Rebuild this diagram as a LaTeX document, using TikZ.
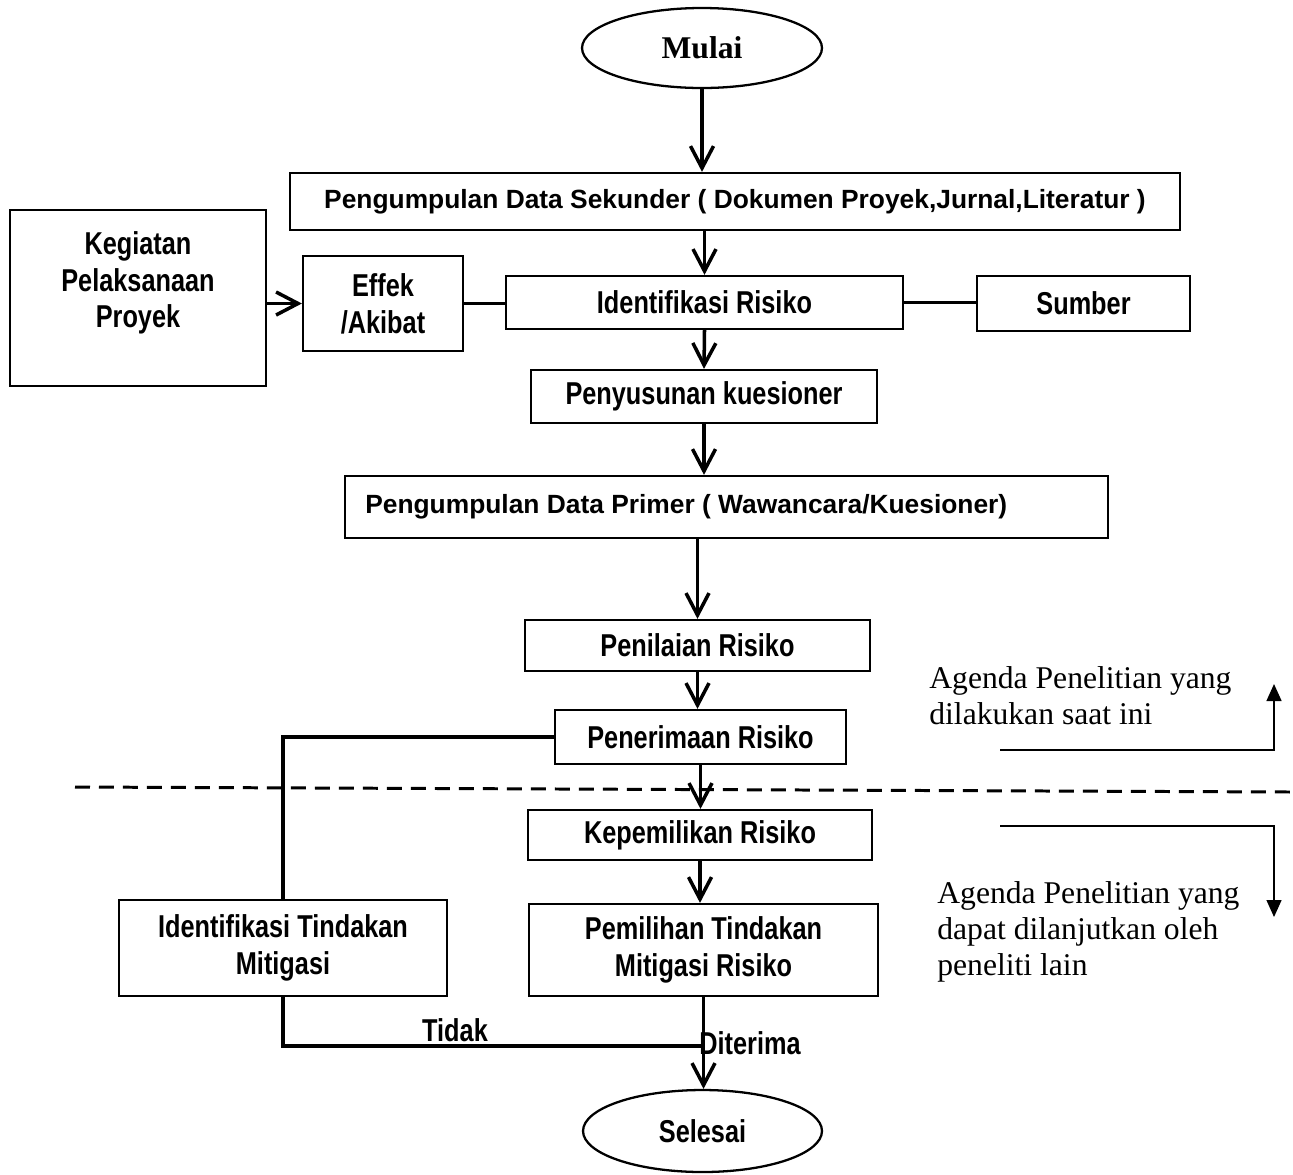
\documentclass[tikz,border=0pt]{standalone}
\usepackage{fontspec}
\setmainfont{Liberation Serif}
\setsansfont{Liberation Sans}
\newfontfamily\narrowsans[FakeStretch=0.8]{Liberation Sans}
\usepackage{tikz}
\usetikzlibrary{arrows.meta, shapes.geometric, positioning, calc}

\begin{document}
\begin{tikzpicture}[x=0.02cm, y=-0.02cm,
  box/.style={draw, line width=1.3pt, align=center, inner sep=0pt,
    font=\narrowsans\bfseries\fontsize{18}{21}\selectfont},
  widebox/.style={box, font=\sffamily\bfseries\fontsize{15}{20}\selectfont},
  terminal/.style={draw, ellipse, line width=1.3pt, inner sep=0pt},
  flow/.style={line width=2pt, -{Straight Barb[length=4.4mm,width=4.6mm]}},
  link/.style={line width=2pt},
  note/.style={line width=0.8pt, -{Triangle[length=3.4mm,width=3mm]}},
  notetext/.style={anchor=west, align=left, inner sep=0pt,
    font=\fontsize{18}{20.5}\selectfont},
  lbl/.style={inner sep=0pt, font=\narrowsans\bfseries\fontsize{18}{21}\selectfont}]

  \useasboundingbox (0,0) rectangle (1293,1174);

  % Alur utama
  \node[terminal, minimum width=4.8cm, minimum height=1.6cm,
    font=\bfseries\fontsize{18}{20}\selectfont] (mulai) at (702,48) {Mulai};
  \node[widebox, minimum width=17.8cm, minimum height=1.14cm] (sekunder) at (735,201.5)
    {Pengumpulan Data Sekunder ( Dokumen Proyek,Jurnal,Literatur )};
  \node[box, minimum width=5.12cm, minimum height=3.52cm] (kegiatan) at (138,298)
    {Kegiatan\\Pelaksanaan\\Proyek\\[0pt]\mbox{}};
  \node[box, minimum width=3.2cm, minimum height=1.9cm] (effek) at (383,303.5)
    {Effek\\/Akibat};
  \node[box, minimum width=7.94cm, minimum height=1.06cm] (idrisiko) at (704.5,302.5)
    {Identifikasi Risiko};
  \node[box, minimum width=4.26cm, minimum height=1.1cm] (sumber) at (1083.5,303.5)
    {Sumber};
  \node[box, minimum width=6.92cm, minimum height=1.06cm] (kuesioner) at (704,396.5)
    {Penyusunan kuesioner};
  \node[widebox, minimum width=15.26cm, minimum height=1.24cm] (primer) at (726.5,507) {};
  \node[inner sep=0pt, anchor=west, font=\sffamily\bfseries\fontsize{15}{20}\selectfont]
    (primerteks) at ([xshift=0.42cm]primer.west)
    {Pengumpulan Data Primer ( Wawancara/Kuesioner)};
  \node[box, minimum width=6.9cm, minimum height=1.02cm] (penilaian) at (697.5,645.5)
    {Penilaian Risiko};
  \node[box, minimum width=5.82cm, minimum height=1.08cm] (penerimaan) at (700.5,737)
    {Penerimaan Risiko};
  \node[box, minimum width=6.88cm, minimum height=1.0cm] (kepemilikan) at (700,835)
    {Kepemilikan Risiko};
  \node[box, minimum width=6.98cm, minimum height=1.84cm] (pemilihan) at (703.5,950)
    {Pemilihan Tindakan\\Mitigasi Risiko};
  \node[box, minimum width=6.56cm, minimum height=1.92cm] (idtindakan) at (283,948)
    {Identifikasi Tindakan\\Mitigasi};
  \node[terminal, minimum width=4.78cm, minimum height=1.64cm,
    font=\narrowsans\bfseries\fontsize{18}{21}\selectfont] (selesai) at (702.5,1131)
    {Selesai};

  \coordinate (gabung) at (703.5,1046);

  % Panah
  \draw[flow] (mulai.south) -- (mulai.south |- sekunder.north);
  \draw[flow] (idrisiko.north |- sekunder.south) -- (idrisiko.north);
  \draw[flow] (kegiatan.east |- effek.east) -- (effek.west);
  \draw[link] (effek.east) -- (idrisiko.west |- effek.east);
  \draw[link] (idrisiko.east) -- (idrisiko.east -| sumber.west);
  \draw[flow] (idrisiko.south) -- (kuesioner.north);
  \draw[flow] (kuesioner.south) -- (kuesioner.south |- primer.north);
  \draw[flow] (penilaian.north |- primer.south) -- (penilaian.north);
  \draw[flow] (penilaian.south) -- (penilaian.south |- penerimaan.north);
  \draw[flow] (penerimaan.south) -- (penerimaan.south |- kepemilikan.north);
  \draw[flow] (kepemilikan.south) -- (kepemilikan.south |- pemilihan.north);
  \draw[link] (penerimaan.west) -| (idtindakan.north);
  \draw[link] (idtindakan.south) |- (gabung);
  \draw[flow] (pemilihan.south) -- (pemilihan.south |- selesai.north);

  \node[lbl] (tidak) at (455,1030) {Tidak};
  \node[lbl, anchor=west] (diterima) at (699,1043) {Diterima};

  % Batas agenda
  \coordinate (batasL) at (75,787);
  \coordinate (batasR) at (1293,792);
  \draw[line width=1.7pt, dash pattern=on 0.3cm off 0.18cm] (batasL) -- (batasR);

  \node[notetext] (agendaatas) at (929,696)
    {Agenda Penelitian yang\\dilakukan saat ini};
  \coordinate (atasA) at (1000,750);
  \coordinate (atasB) at (1274,684);
  \draw[note] (atasA) -| (atasB);

  \node[notetext] (agendabawah) at (937,932)
    {Agenda Penelitian yang\\dapat dilanjutkan oleh\\peneliti lain};
  \coordinate (bawahA) at (1000,826);
  \coordinate (bawahB) at (1274,917);
  \draw[note] (bawahA) -| (bawahB);

\end{tikzpicture}
\end{document}
